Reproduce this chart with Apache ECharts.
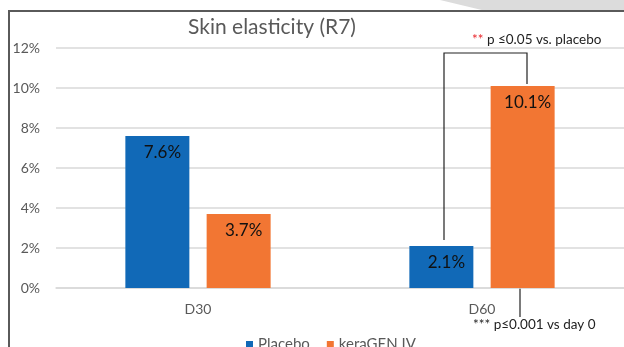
<!DOCTYPE html>
<html>
<head>
<meta charset="utf-8">
<script src="https://cdn.jsdelivr.net/npm/echarts@6/dist/echarts.min.js"></script>
<style>
  html, body { margin: 0; padding: 0; background: #fff; }
  #main { width: 624px; height: 347px; }
</style>
</head>
<body>
<div id="main"></div>
<script>
var categories = ['D30', 'D60'];
var placebo = [7.6, 2.1];
var keragen = [3.7, 10.1];
var seriesNames = ['Placebo', 'keraGEN IV'];

var font = 'Lato';
var myChart = echarts.init(document.getElementById('main'));

var option = {
    backgroundColor: '#fff',
    animation: false,
    title: {
        text: 'Skin elasticity (R7)',
        left: 267,
        textAlign: 'center',
        top: 12,
        textStyle: { fontFamily: font, fontSize: 21, fontWeight: 'normal', color: '#595959' }
    },
    legend: {
        data: seriesNames,
        left: 241,
        top: 332,
        icon: 'rect',
        itemWidth: 7,
        itemHeight: 7,
        itemGap: 17,
        textStyle: { fontFamily: font, fontSize: 15, color: '#595959' }
    },
    grid: { left: 56, top: 48, width: 569, height: 240, containLabel: false },
    xAxis: {
        type: 'category',
        data: categories,
        axisTick: { show: false },
        axisLine: { lineStyle: { color: '#d9d9d9', width: 1.5 } },
        axisLabel: { fontFamily: font, fontSize: 14, color: '#595959', margin: 14 }
    },
    yAxis: {
        type: 'value',
        min: 0,
        max: 12,
        interval: 2,
        axisLabel: { formatter: '{value}%', fontFamily: font, fontSize: 14, color: '#595959', margin: 16 },
        splitLine: { lineStyle: { color: '#d9d9d9', width: 1.5 } }
    },
    series: [
        {
            name: seriesNames[0],
            type: 'bar',
            data: placebo,
            barWidth: 64,
            barGap: '27%',
            itemStyle: { color: '#1169b7' },
            label: {
                show: true, position: 'insideTop', offset: [5, 3],
                formatter: '{c}%', fontFamily: font, fontSize: 17, color: '#111'
            }
        },
        {
            name: seriesNames[1],
            type: 'bar',
            data: keragen,
            barWidth: 64,
            itemStyle: { color: '#f27633' },
            label: {
                show: true, position: 'insideTop', offset: [5, 3],
                formatter: '{c}%', fontFamily: font, fontSize: 17, color: '#111'
            }
        }
    ]
};
myChart.setOption(option);

// significance brackets, placed from data values
var p0 = myChart.convertToPixel({ gridIndex: 0 }, ['D60', 0]);
var yTop = myChart.convertToPixel({ gridIndex: 0 }, ['D60', 11.75])[1];
var yLeft = myChart.convertToPixel({ gridIndex: 0 }, ['D60', 2.4])[1];
var yRight = myChart.convertToPixel({ gridIndex: 0 }, ['D60', 10.2])[1];
var xl = p0[0] - 38;
var xr = p0[0] + 45;
var xb = p0[0] + 38;
var lineStyle = { stroke: '#222', lineWidth: 1.2 };

myChart.setOption({
    graphic: [
        { type: 'polygon', shape: { points: [[440, 0], [624, 0], [624, 11], [486, 11]] }, style: { fill: '#dcdcdc' } },
        { type: 'line', shape: { x1: 8, y1: 11, x2: 624, y2: 11 }, style: { stroke: '#5a5a5a', lineWidth: 2 } },
        { type: 'line', shape: { x1: 9, y1: 11, x2: 9, y2: 347 }, style: { stroke: '#5a5a5a', lineWidth: 2 } },
        { type: 'polyline', shape: { points: [[xl, yLeft], [xl, yTop], [xr, yTop], [xr, yRight]] }, style: lineStyle },
        { type: 'line', shape: { x1: xb, y1: p0[1], x2: xb, y2: p0[1] + 29 }, style: lineStyle },
        {
            type: 'text', left: 472, top: 33,
            style: {
                text: '{r|**} p ≤0.05 vs. placebo',
                fill: '#222', font: '13.5px ' + font,
                rich: { r: { fill: '#e8262b', fontFamily: font, fontSize: 13.5 } }
            }
        },
        {
            type: 'text', left: 473, top: 318,
            style: { text: '*** p≤0.001 vs day 0', fill: '#222', font: '13.5px ' + font }
        }
    ]
});
</script>
</body>
</html>
